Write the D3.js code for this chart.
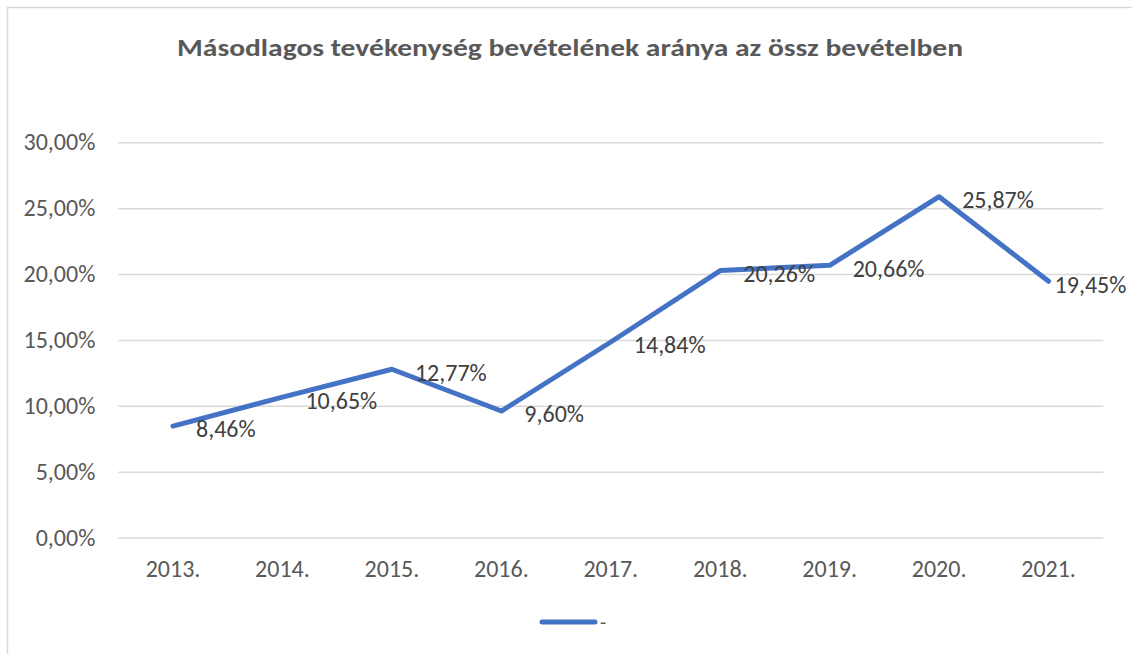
<!DOCTYPE html>
<html><head><meta charset="utf-8">
<script src="https://cdn.jsdelivr.net/npm/d3@7"></script>
<style>body{margin:0;background:#fff;}svg{display:block;}</style>
</head><body>
<script>
const title = "Másodlagos tevékenység bevételének aránya az össz bevételben";
const categories = ["2013.","2014.","2015.","2016.","2017.","2018.","2019.","2020.","2021."];
const values = [8.46, 10.65, 12.77, 9.60, 14.84, 20.26, 20.66, 25.87, 19.45];
const yTicks = [0, 5, 10, 15, 20, 25, 30];
const seriesName = "-";

(function(){
const W = 1132, H = 654;
const svg = d3.select("body").append("svg").attr("width", W).attr("height", H);
svg.append("rect").attr("x", 7.5).attr("y", 7.5).attr("width", W + 20).attr("height", H + 20)
  .attr("fill", "#fff").attr("stroke", "#d9d9d9").attr("stroke-width", 1.5);

const font = "Calibri, Carlito, 'Liberation Sans', sans-serif";
const pL = 118.3, pR = 1103.3, pT = 142.3, pB = 537.5;
const x = d3.scaleBand().domain(categories).range([pL, pR]);
const y = d3.scaleLinear().domain([0, 30]).range([pB, pT]);
const fmt = v => v.toFixed(2).replace(".", ",") + "%";

svg.append("text").attr("x", 570).attr("y", 56).attr("text-anchor", "middle")
  .attr("font-family", font).attr("font-weight", "bold").attr("font-size", 25)
  .attr("fill", "#595959").attr("textLength", 786).attr("lengthAdjust", "spacingAndGlyphs").text(title);

const yAxis = svg.append("g").attr("transform", `translate(${pL},0)`)
  .call(d3.axisLeft(y).tickValues(yTicks).tickSize(-(pR - pL)).tickFormat(d => fmt(d)).tickPadding(23));
yAxis.select(".domain").remove();
yAxis.selectAll(".tick line").attr("stroke", "#d9d9d9").attr("stroke-width", 1.5);
yAxis.selectAll(".tick text").attr("font-family", font).attr("font-size", 24).attr("fill", "#595959");

const xAxis = svg.append("g").attr("transform", `translate(0,${pB})`)
  .call(d3.axisBottom(x).tickSize(0).tickPadding(22));
xAxis.select(".domain").remove();
xAxis.selectAll(".tick text").attr("font-family", font).attr("font-size", 24).attr("fill", "#595959");

const cx = d => x(d) + x.bandwidth() / 2;
const line = d3.line().x((d, i) => cx(categories[i])).y(d => y(d));
svg.append("path").datum(values).attr("d", line).attr("fill", "none")
  .attr("stroke", "#4472C4").attr("stroke-width", 5).attr("stroke-linecap", "round").attr("stroke-linejoin", "round");

svg.append("g").selectAll("text").data(values).join("text")
  .attr("x", (d, i) => cx(categories[i]) + (i === values.length - 1 ? 6 : 23))
  .attr("y", d => y(d) + 3).attr("dy", "0.35em")
  .attr("font-family", font).attr("font-size", 24).attr("fill", "#404040")
  .text(d => fmt(d));

svg.append("line").attr("x1", 542).attr("x2", 595).attr("y1", 622).attr("y2", 622)
  .attr("stroke", "#4472C4").attr("stroke-width", 5).attr("stroke-linecap", "round");
svg.append("text").attr("x", 600).attr("y", 622).attr("dy", "0.35em")
  .attr("font-family", font).attr("font-size", 20).attr("fill", "#595959").text(seriesName);
})();
</script>
</body></html>
